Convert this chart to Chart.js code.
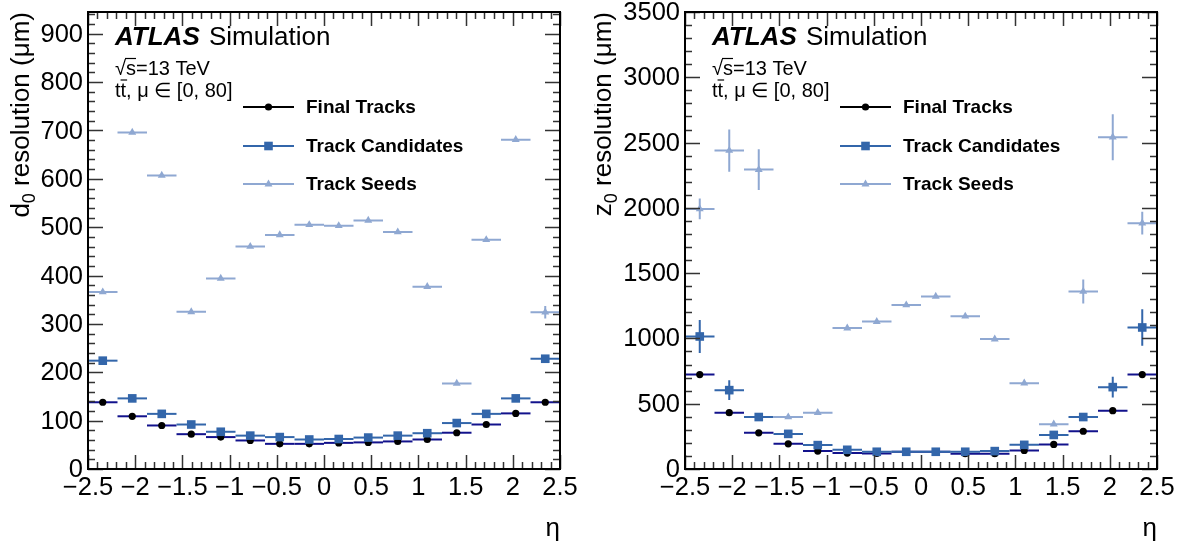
<!DOCTYPE html>
<html lang="en">
<head>
  <meta charset="UTF-8">
  <title>Track resolution vs eta</title>
  <script src="https://cdn.jsdelivr.net/npm/chart.js"></script>
  <style>
    body { margin: 0; background: #fff; }
    #wrap { position: relative; width: 1188px; height: 551px; }
    .panel { position: absolute; top: 0; width: 594px; height: 551px; }
  </style>
</head>
<body>
  <div id="wrap">
    <div class="panel" style="left:0"><canvas id="d0Chart" width="594" height="551"></canvas></div>
    <div class="panel" style="left:594px"><canvas id="z0Chart" width="594" height="551"></canvas></div>
  </div>

  <script>
// bin edges in eta (16 bins)
const etaEdges = [-2.5, -2.1875, -1.875, -1.5625, -1.25, -0.9375, -0.625, -0.3125, 0,
                  0.3125, 0.625, 0.9375, 1.25, 1.5625, 1.875, 2.1875, 2.5];
const seriesNames = ['Final Tracks', 'Track Candidates', 'Track Seeds'];

// d0 resolution (um)
const d0Final = [138, 109, 90, 72, 66, 59, 52, 52, 54, 55, 57, 61, 75, 92, 115, 138];
const d0Cand  = [224, 146, 114, 92, 77, 69, 66, 61, 62, 65, 69, 74, 95, 114, 146, 228];
const d0Seeds = [366, 696, 607, 325, 394, 460, 484, 505, 503, 514, 490, 377, 177, 474, 681, 324];
const d0SeedsErr = [2, 3, 3, 2, 2, 2, 2, 2, 2, 2, 2, 2, 2, 2, 3, 13];

// z0 resolution (um)
const z0Final = [723, 431, 277, 193, 137, 122, 119, 132, 132, 117, 117, 142, 188, 289, 447, 723];
const z0FinalErr = [8, 5, 3, 2, 2, 2, 2, 2, 2, 2, 2, 2, 2, 3, 5, 8];
const z0Cand  = [1015, 604, 398, 269, 183, 147, 132, 132, 132, 132, 137, 185, 261, 398, 627, 1084];
const z0CandErr = [127, 76, 25, 10, 5, 4, 4, 4, 4, 4, 4, 5, 10, 25, 80, 140];
const z0Seeds = [1992, 2439, 2293, 398, 431, 1079, 1129, 1256, 1322, 1170, 995, 657, 343, 1360, 2541, 1883];
const z0SeedsErr = [79, 162, 156, 8, 8, 8, 8, 8, 8, 8, 8, 8, 12, 92, 176, 87];

// tick labels
const etaTickValues = [-2.5, -2, -1.5, -1, -0.5, 0, 0.5, 1, 1.5, 2, 2.5];
const etaTickLabels = ['\u22122.5', '\u22122', '\u22121.5', '\u22121', '\u22120.5', '0', '0.5', '1', '1.5', '2', '2.5'];
const d0TickValues = [0, 100, 200, 300, 400, 500, 600, 700, 800, 900];
const z0TickValues = [0, 500, 1000, 1500, 2000, 2500, 3000, 3500];

const FONT = "'Liberation Sans', Arial, Helvetica, sans-serif";
const colFinal = '#000000';
const colFinalBar = '#12128c';
const colCand = '#3366aa';
const colSeeds = '#8fa8d2';

function points(vals) {
  return vals.map((v, i) => ({
    x: (etaEdges[i] + etaEdges[i + 1]) / 2,
    y: v,
    lo: etaEdges[i],
    hi: etaEdges[i + 1]
  }));
}

function drawMarker(ctx, style, x, y, color) {
  ctx.fillStyle = color;
  ctx.beginPath();
  if (style === 'circle') {
    ctx.arc(x, y, 3.6, 0, Math.PI * 2);
  } else if (style === 'rect') {
    ctx.rect(x - 4.3, y - 4.3, 8.6, 8.6);
  } else {
    ctx.moveTo(x, y - 4.5);
    ctx.lineTo(x + 4, y + 2.5);
    ctx.lineTo(x - 4, y + 2.5);
    ctx.closePath();
  }
  ctx.fill();
}

// ROOT-like frame, inner ticks, labels and legend
const rootStyle = {
  id: 'rootStyle',
  beforeDatasetDraw(chart, args) {
    const ds = chart.data.datasets[args.index];
    const xs = chart.scales.x, ys = chart.scales.y;
    const ctx = chart.ctx;
    ctx.save();
    ctx.strokeStyle = ds.barColor;
    ctx.lineWidth = 2;
    ds.data.forEach((p, i) => {
      const err = ds.yErr ? ds.yErr[i] : 0;
      const py = ys.getPixelForValue(p.y);
      ctx.beginPath();
      ctx.moveTo(xs.getPixelForValue(p.lo), py);
      ctx.lineTo(xs.getPixelForValue(p.hi), py);
      if (err) {
        const px = xs.getPixelForValue(p.x);
        ctx.moveTo(px, ys.getPixelForValue(p.y - err));
        ctx.lineTo(px, ys.getPixelForValue(p.y + err));
      }
      ctx.stroke();
    });
    ctx.restore();
  },
  afterDraw(chart, args, opts) {
    const ctx = chart.ctx;
    const xs = chart.scales.x, ys = chart.scales.y;
    const { left, right, top, bottom } = chart.chartArea;
    ctx.save();

    // ticks
    ctx.strokeStyle = '#333';
    ctx.lineWidth = 1.5;
    ctx.beginPath();
    for (let k = 0; k <= 50; k++) {
      const v = -2.5 + k * 0.1;
      const px = Math.round(xs.getPixelForValue(v)) + 0.5;
      const len = k % 5 === 0 ? 14 : 7;
      ctx.moveTo(px, bottom); ctx.lineTo(px, bottom - len);
      ctx.moveTo(px, top); ctx.lineTo(px, top + len);
    }
    const nMinor = Math.floor(ys.max / opts.yMinor + 1e-6);
    for (let k = 0; k <= nMinor; k++) {
      const v = k * opts.yMinor;
      const py = Math.round(ys.getPixelForValue(v)) + 0.5;
      const len = (k * opts.yMinor) % opts.yMajor === 0 ? 15 : 7;
      ctx.moveTo(left, py); ctx.lineTo(left + len, py);
      ctx.moveTo(right, py); ctx.lineTo(right - len, py);
    }
    ctx.stroke();

    // frame
    ctx.strokeStyle = '#000';
    ctx.lineWidth = 2;
    ctx.strokeRect(left, top, right - left, bottom - top);

    // tick labels
    ctx.fillStyle = '#000';
    ctx.font = '25.5px ' + FONT;
    ctx.textAlign = 'center';
    ctx.textBaseline = 'alphabetic';
    etaTickValues.forEach((v, i) => {
      ctx.fillText(etaTickLabels[i], xs.getPixelForValue(v), bottom + 26);
    });
    ctx.textAlign = 'right';
    ctx.textBaseline = 'middle';
    opts.yTicks.forEach(v => {
      ctx.fillText(String(v), left - 5, ys.getPixelForValue(v) + 1);
    });

    // x title
    ctx.font = '26px ' + FONT;
    ctx.textAlign = 'right';
    ctx.textBaseline = 'alphabetic';
    ctx.fillText('\u03b7', right, bottom + 67);

    // y title, rotated, aligned with the top of the frame
    ctx.save();
    ctx.translate(opts.titleX, top);
    ctx.rotate(-Math.PI / 2);
    ctx.textAlign = 'left';
    ctx.font = '26px ' + FONT;
    const rest = ' resolution (\u03bcm)';
    const w1 = ctx.measureText(opts.titleVar).width;
    const w3 = ctx.measureText(rest).width;
    ctx.font = '18px ' + FONT;
    const w2 = ctx.measureText('0').width;
    let tx = -(w1 + w2 + w3);
    ctx.font = '26px ' + FONT;
    ctx.fillText(opts.titleVar, tx, 0);
    ctx.font = '18px ' + FONT;
    ctx.fillText('0', tx + w1, 6);
    ctx.font = '26px ' + FONT;
    ctx.fillText(rest, tx + w1 + w2, 0);
    ctx.restore();

    // ATLAS label
    const ax = left + 27;
    ctx.textAlign = 'left';
    ctx.font = 'italic bold 26px ' + FONT;
    ctx.fillText('ATLAS', ax, 45);
    const wa = ctx.measureText('ATLAS ').width;
    ctx.font = '26px ' + FONT;
    ctx.fillText('Simulation', ax + wa + 2, 45);

    ctx.font = '20px ' + FONT;
    ctx.fillText('\u221as=13 TeV', ax, 75);
    const wr = ctx.measureText('\u221a').width;
    const ws = ctx.measureText('s').width;
    ctx.lineWidth = 1.2;
    ctx.strokeStyle = '#000';
    ctx.beginPath();
    ctx.moveTo(ax + wr - 1, 75 - 16.5); ctx.lineTo(ax + wr + ws, 75 - 16.5);
    ctx.stroke();

    const wt = ctx.measureText('t').width;
    ctx.fillText('t', ax, 97);
    ctx.fillText('t', ax + wt, 97);
    ctx.beginPath();
    ctx.moveTo(ax + wt, 97 - 17); ctx.lineTo(ax + 2 * wt + 1, 97 - 17);
    ctx.stroke();
    ctx.fillText(', \u03bc \u2208 [0, 80]', ax + 2 * wt, 97);

    // legend
    const rows = [top + 95, top + 134, top + 172];
    chart.data.datasets.forEach((ds, i) => {
      const ly = rows[i];
      ctx.strokeStyle = ds.legendLine;
      ctx.lineWidth = 2;
      ctx.beginPath();
      ctx.moveTo(left + 155, ly); ctx.lineTo(left + 206, ly);
      ctx.stroke();
      drawMarker(ctx, ds.pointStyle, left + 180.5, ly, ds.pointBackgroundColor);
      ctx.fillStyle = '#000';
      ctx.font = 'bold 19px ' + FONT;
      ctx.textBaseline = 'middle';
      ctx.fillText(ds.label, left + 218, ly + 1);
    });
    ctx.restore();
  }
};

function makeChart(id, finalV, finalErr, candV, candErr, seedV, seedErr, yMax, opts, pad) {
  const ctx = document.getElementById(id).getContext('2d');
  return new Chart(ctx, {
    type: 'scatter',
    data: {
      datasets: [
        {
          label: seriesNames[0], data: points(finalV), yErr: finalErr, order: 3,
          pointStyle: 'circle', pointRadius: 3.6, pointBackgroundColor: colFinal,
          pointBorderWidth: 0, barColor: colFinalBar, legendLine: colFinal
        },
        {
          label: seriesNames[1], data: points(candV), yErr: candErr, order: 2,
          pointStyle: 'rect', pointRadius: 6.1, pointBackgroundColor: colCand,
          pointBorderWidth: 0, barColor: colCand, legendLine: colCand
        },
        {
          label: seriesNames[2], data: points(seedV), yErr: seedErr, order: 1,
          pointStyle: 'triangle', pointRadius: 4.6, pointBackgroundColor: colSeeds,
          pointBorderWidth: 0, barColor: colSeeds, legendLine: colSeeds
        }
      ]
    },
    options: {
      responsive: false,
      animation: false,
      devicePixelRatio: 1,
      layout: { padding: pad },
      scales: {
        x: { type: 'linear', min: -2.5, max: 2.5, display: false },
        y: { type: 'linear', min: 0, max: yMax, display: false }
      },
      plugins: {
        legend: { display: false },
        tooltip: { enabled: false },
        rootStyle: opts
      }
    },
    plugins: [rootStyle]
  });
}

makeChart('d0Chart', d0Final, null, d0Cand, null, d0Seeds, d0SeedsErr, 945,
  { yMajor: 100, yMinor: 20, yTicks: d0TickValues, titleVar: 'd', titleX: 29 },
  { left: 88, right: 34, top: 12, bottom: 82 });

makeChart('z0Chart', z0Final, z0FinalErr, z0Cand, z0CandErr, z0Seeds, z0SeedsErr, 3500,
  { yMajor: 500, yMinor: 100, yTicks: z0TickValues, titleVar: 'z', titleX: 17 },
  { left: 91, right: 31, top: 12, bottom: 82 });
  </script>
</body>
</html>
